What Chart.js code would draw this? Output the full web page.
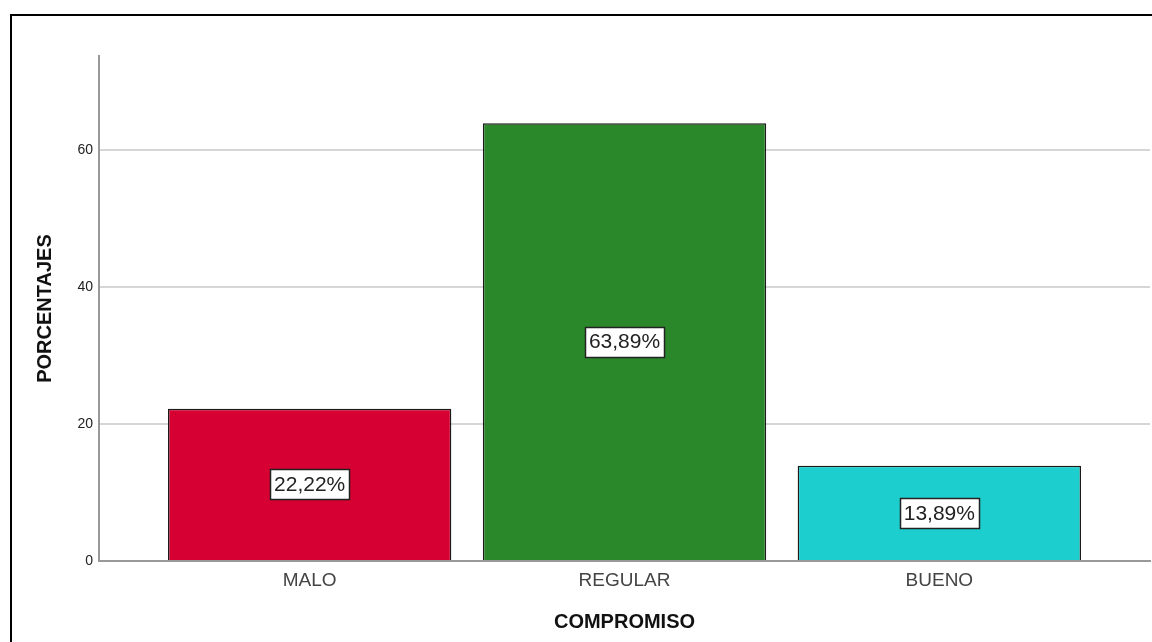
<!DOCTYPE html>
<html>
<head>
<meta charset="utf-8">
<script src="https://cdn.jsdelivr.net/npm/chart.js@4/dist/chart.umd.min.js"></script>
<style>
  html, body { margin: 0; padding: 0; background: #fff; overflow: hidden; }
  #frame { position: absolute; left: 10px; top: 14px; width: 1200px; height: 700px;
           border-top: 2px solid #000; border-left: 2px solid #000; }
  #chart { position: absolute; left: 0; top: 0; }
</style>
</head>
<body>
<div id="frame"></div>
<canvas id="chart" width="1152" height="642"></canvas>
<script>
// data
var categories = ['MALO', 'REGULAR', 'BUENO'];
var percentages = [22.22, 63.89, 13.89];
var barColors = ['#D60032', '#2A882A', '#1DCECE'];
var yTicks = [0, 20, 40, 60];
var yMax = 73.7;

var fontFamily = '"Liberation Sans", Arial, sans-serif';

// white boxed value label in the middle of each bar
var barLabels = {
    id: 'barLabels',
    afterDatasetsDraw: function(chart) {
        var ctx = chart.ctx;
        var meta = chart.getDatasetMeta(0);
        ctx.save();
        ctx.font = '21px ' + fontFamily;
        ctx.textAlign = 'center';
        ctx.textBaseline = 'middle';
        meta.data.forEach(function(bar, i) {
            var p = bar.getProps(['x', 'y', 'base'], true);
            var cy = (p.y + p.base) / 2;
            var txt = percentages[i].toFixed(2).replace('.', ',') + '%';
            var w = Math.round(ctx.measureText(txt).width + 8);
            var h = 30;
            var bx = Math.round(p.x - w / 2);
            var by = Math.round(cy - h / 2);
            ctx.fillStyle = '#fff';
            ctx.fillRect(bx, by, w, h);
            ctx.strokeStyle = '#222';
            ctx.lineWidth = 1.5;
            ctx.strokeRect(bx + 0.5, by + 0.5, w, h);
            ctx.fillStyle = '#222';
            ctx.fillText(txt, p.x, cy + 1);
        });
        ctx.restore();
    }
};

var points = categories.map(function(c, i) {
    return { x: i, y: percentages[i] };
});

var chart = new Chart(document.getElementById('chart'), {
    type: 'bar',
    data: {
        datasets: [{
            data: points,
            backgroundColor: barColors,
            borderColor: '#1a1a1a',
            borderWidth: 1.5,
            barPercentage: 0.9,
            categoryPercentage: 1
        }]
    },
    plugins: [barLabels],
    options: {
        responsive: false,
        animation: false,
        layout: { padding: { top: 56, right: 2, left: 0, bottom: 0 } },
        plugins: {
            legend: { display: false },
            tooltip: { enabled: false }
        },
        scales: {
            x: {
                type: 'linear',
                offset: false,
                min: -0.669,
                max: 2.669,
                afterBuildTicks: function(scale) {
                    scale.ticks = categories.map(function(c, i) { return { value: i }; });
                },
                afterFit: function(scale) { scale.height = 81; },
                ticks: {
                    callback: function(v) { return categories[v]; },
                    font: { family: fontFamily, size: 19 },
                    color: '#444',
                    padding: 8,
                    maxRotation: 0
                },
                grid: { display: false, drawTicks: false },
                border: { color: '#999', width: 2 },
                title: {
                    display: true,
                    text: 'COMPROMISO',
                    font: { family: fontFamily, size: 20, weight: 'bold' },
                    color: '#111',
                    padding: { top: 0, bottom: 8 }
                }
            },
            y: {
                min: 0,
                max: yMax,
                afterBuildTicks: function(scale) {
                    scale.ticks = yTicks.map(function(v) { return { value: v }; });
                },
                afterFit: function(scale) { scale.width = 99; },
                ticks: {
                    font: { family: fontFamily, size: 14 },
                    color: '#222',
                    padding: 6
                },
                grid: { color: '#d6d6d6', lineWidth: 2, drawTicks: false },
                border: { color: '#999', width: 2 },
                title: {
                    display: true,
                    text: 'PORCENTAJES',
                    font: { family: fontFamily, size: 20, weight: 'bold' },
                    color: '#111',
                    padding: { top: 33, bottom: 0 }
                }
            }
        }
    }
});
</script>
</body>
</html>
